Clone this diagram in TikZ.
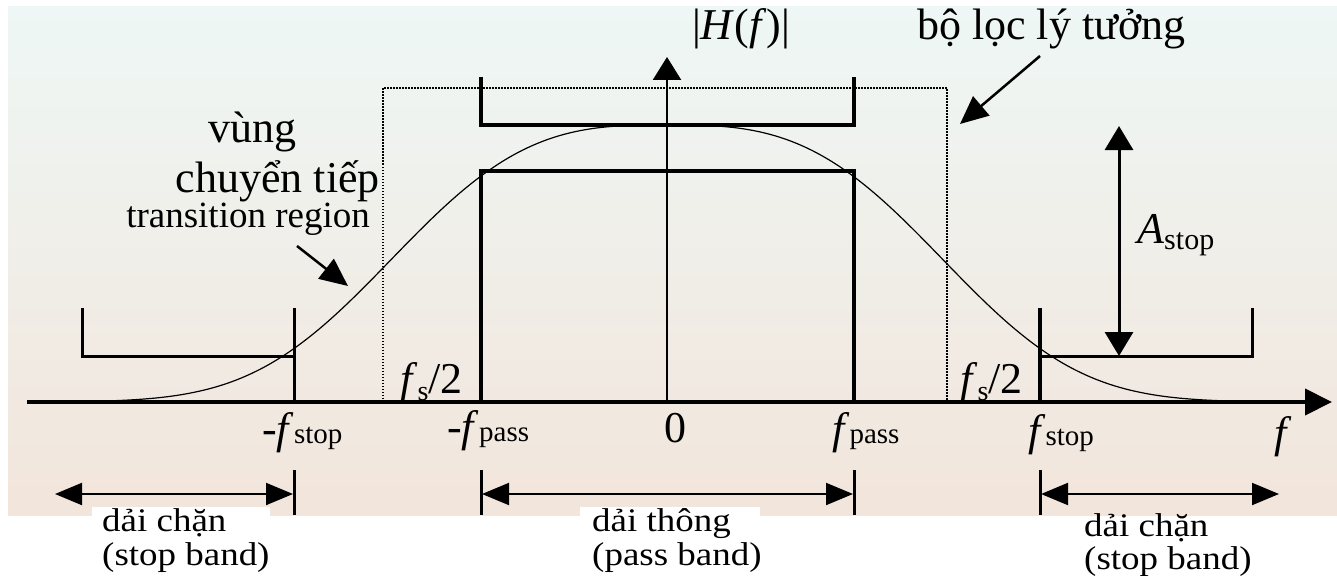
\documentclass[tikz,border=0pt]{standalone}
\usepackage{fontspec}
\setmainfont{Liberation Serif}
\usetikzlibrary{arrows.meta}
\definecolor{bgtop}{RGB}{238,247,245}
\definecolor{bgmid}{RGB}{243,243,235}
\definecolor{bgbot}{RGB}{242,229,219}
\begin{document}
\begin{tikzpicture}[x=1pt,y=-1pt,
  lbl/.style={inner sep=0pt},
  big/.style={font=\fontsize{44}{50}\selectfont},
  mid/.style={font=\fontsize{37}{40}\selectfont},
  bandtxt/.style={font=\fontsize{33}{36}\selectfont, xscale=1.12},
  heavy/.style={line width=4pt},
  medium/.style={line width=3pt},
  dotln/.style={line width=1.5pt, dash pattern=on 1.5pt off 1.5pt},
  axisarrow/.style={line width=4pt, -{Triangle[length=27pt,width=26pt]}},
  yarrow/.style={line width=2.5pt, -{Triangle[length=23pt,width=28pt]}},
  callout/.style={line width=2.5pt, -{Triangle[length=28pt,width=25pt]}},
  dblarrow/.style={line width=3pt, {Triangle[length=24pt,width=28pt]}-{Triangle[length=24pt,width=28pt]}},
  bandarrow/.style={line width=2pt, {Triangle[length=27pt,width=22pt]}-{Triangle[length=27pt,width=22pt]}},
  curveln/.style={line width=1.2pt}
]
\useasboundingbox (0,0) rectangle (1337,575);
\fill[white] (0,0) rectangle (1337,575);
\shade[top color=bgtop, middle color=bgmid, bottom color=bgbot] (8,7) rectangle (1337,515);
\fill[white] (92,507) rectangle (270,520);
\fill[white] (580,507) rectangle (760,520);

% key coordinates
\coordinate (axL) at (27,402);
\coordinate (axR) at (1332,402);
\coordinate (O) at (667,402);
\coordinate (yT) at (667,57);
\coordinate (nstop) at (294,402);
\coordinate (npass) at (481,402);
\coordinate (ppass) at (854,402);
\coordinate (pstop) at (1040,402);
\coordinate (dotL) at (383,402);
\coordinate (dotR) at (947,402);
\coordinate (dotTL) at (383,88);
\coordinate (dotTR) at (947,88);

% ideal filter (dotted)
\draw[dotln] (dotL) -- (dotTL) -- (dotTR) -- (dotR);

% upper bracket
\draw[heavy] (481,77) -- (481,125) -- (854,125) -- (854,77);
% pass band rectangle
\draw[heavy] (npass) -- (481,171) -- (854,171) -- (ppass);
% left stop band bracket
\draw[medium] (82,308) -- (82,356) -- (294,356);
\draw[medium] (294,308) -- (nstop);
% right stop band bracket
\draw[heavy] (1040,308) -- (pstop);
\draw[medium] (1040,356) -- (1252,356) -- (1252,308);

% response curve
\draw[curveln] plot[domain=-585:585, samples=240, smooth]
  ({667+\x},{402-277*exp(-(abs(\x)/316)*(abs(\x)/316)*(abs(\x)/316))});

% axes
\draw[axisarrow] (axL) -- (axR);
\draw[yarrow] (O) -- (yT);

% A_stop arrow
\coordinate (aT) at (1119,126);
\coordinate (aB) at (1119,356);
\draw[dblarrow] (aT) -- (aB);

% labels top
\node[lbl,big,anchor=base] (H) at (741,40) {|\textit{H}(\textit{f})|};
\node[lbl,big,anchor=base west] (ideal) at (917,40) {bộ lọc lý tưởng};
\coordinate (idealtip) at (960,124);
\draw[callout] (1040,56) -- (idealtip);

\node[lbl,big,anchor=base] (vung) at (252,142) {vùng};
\node[lbl,big,anchor=base east] (ct) at (380,192) {chuyển tiếp};
\node[lbl,mid,anchor=base east] (tr) at (370,227) {transition region};
\coordinate (trtip) at (348,286);
\draw[callout] (297,246) -- (trtip);

\node[lbl,big,anchor=base west] (Astop) at (1137,243) {\textit{A}{\fontsize{30}{30}\selectfont\raisebox{-6pt}{stop}}};

% f_s/2 labels
\node[lbl,big,anchor=base west] (fsL) at (400,393) {\textit{f}\raisebox{-7pt}{\fontsize{28}{28}\selectfont s}/2};
\node[lbl,big,anchor=base west] (fsR) at (960,393) {\textit{f}\raisebox{-7pt}{\fontsize{28}{28}\selectfont s}/2};

% axis tick labels
\node[lbl,big,anchor=base west] (lnstop) at (262,443) {-\textit{f}{\fontsize{29}{29}\selectfont stop}};
\node[lbl,big,anchor=base west] (lnpass) at (447,441) {-\textit{f}{\fontsize{29}{29}\selectfont pass}};
\node[lbl,big,anchor=base] (lzero) at (675,442) {0};
\node[lbl,big,anchor=base west] (lppass) at (832,443) {\textit{f}{\fontsize{29}{29}\selectfont pass}};
\node[lbl,big,anchor=base west] (lpstop) at (1028,445) {\textit{f}{\fontsize{29}{29}\selectfont stop}};
\node[lbl,big,anchor=base west] (lf) at (1274,447) {\textit{f}};

% band arrows
\coordinate (t1a) at (294,470); \coordinate (t1b) at (294,515);
\coordinate (t2a) at (481,470); \coordinate (t2b) at (481,515);
\coordinate (t3a) at (854,470); \coordinate (t3b) at (854,515);
\coordinate (t4a) at (1040,470); \coordinate (t4b) at (1040,515);
\draw[medium] (t1a) -- (t1b);
\draw[medium] (t2a) -- (t2b);
\draw[medium] (t3a) -- (t3b);
\draw[medium] (t4a) -- (t4b);
\coordinate (b1L) at (55,494); \coordinate (b1R) at (293,494);
\coordinate (b2L) at (482,494); \coordinate (b2R) at (853,494);
\coordinate (b3L) at (1041,494); \coordinate (b3R) at (1279,494);
\draw[bandarrow] (b1L) -- (b1R);
\draw[bandarrow] (b2L) -- (b2R);
\draw[bandarrow] (b3L) -- (b3R);

% band labels
\node[lbl,bandtxt,anchor=base west] (sb1a) at (102,531) {dải chặn};
\node[lbl,bandtxt,anchor=base west] (sb1b) at (102,565) {(stop band)};
\node[lbl,bandtxt,anchor=base west] (pba) at (592,531) {dải thông};
\node[lbl,bandtxt,anchor=base west] (pbb) at (592,565) {(pass band)};
\node[lbl,bandtxt,anchor=base west] (sb2a) at (1084,536) {dải chặn};
\node[lbl,bandtxt,anchor=base west] (sb2b) at (1084,569) {(stop band)};
\end{tikzpicture}
\end{document}
